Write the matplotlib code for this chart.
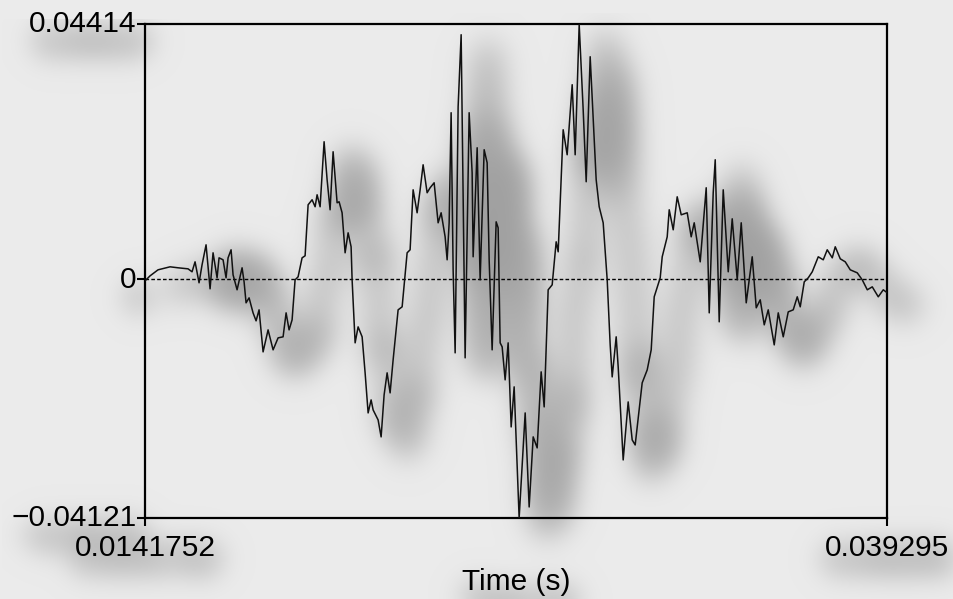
import numpy as np
import matplotlib
matplotlib.use("Agg")
import matplotlib.pyplot as plt

# ---------------- data ----------------
time_ms = [14.175, 14.345, 14.615, 15.022, 15.293, 15.631, 15.766, 15.868, 16.003, 16.105,
           16.240, 16.376, 16.477, 16.613, 16.680, 16.816, 16.917, 16.985, 17.087, 17.154,
           17.290, 17.459, 17.527, 17.594, 17.696, 17.831, 17.933, 18.034, 18.170, 18.339,
           18.509, 18.678, 18.847, 18.949, 19.050, 19.152, 19.253, 19.355, 19.490, 19.592,
           19.694, 19.829, 19.931, 19.998, 20.100, 20.235, 20.337, 20.438, 20.540, 20.675,
           20.743, 20.844, 20.946, 21.048, 21.149, 21.183, 21.285, 21.386, 21.522, 21.623,
           21.725, 21.826, 21.894, 22.063, 22.165, 22.266, 22.368, 22.469, 22.571, 22.740,
           22.876, 23.045, 23.146, 23.248, 23.383, 23.485, 23.586, 23.722, 23.823, 23.959,
           24.094, 24.196, 24.331, 24.399, 24.467, 24.534, 24.602, 24.670, 24.771, 24.873,
           25.008, 25.144, 25.245, 25.279, 25.415, 25.516, 25.652, 25.753, 25.821, 25.922,
           26.058, 26.125, 26.193, 26.261, 26.362, 26.464, 26.566, 26.667, 26.836, 27.040,
           27.175, 27.311, 27.446, 27.581, 27.683, 27.818, 27.954, 28.089, 28.157, 28.326,
           28.461, 28.631, 28.732, 28.868, 29.003, 29.105, 29.240, 29.443, 29.545, 29.680,
           29.816, 29.917, 29.985, 30.120, 30.188, 30.357, 30.526, 30.662, 30.763, 31.000,
           31.170, 31.305, 31.407, 31.610, 31.678, 31.847, 31.915, 32.050, 32.185, 32.321,
           32.524, 32.659, 32.761, 32.964, 33.167, 33.269, 33.404, 33.472, 33.607, 33.743,
           33.912, 34.047, 34.217, 34.352, 34.521, 34.724, 34.860, 34.995, 35.131, 35.266,
           35.469, 35.605, 35.774, 35.943, 36.112, 36.248, 36.349, 36.485, 36.620, 36.756,
           36.959, 37.128, 37.263, 37.433, 37.534, 37.704, 37.873, 38.042, 38.279, 38.448,
           38.618, 38.787, 38.990, 39.159, 39.295]

amp_mPa = [-0.26, 0.60, 1.64, 2.16, 1.99, 1.81, 1.30, 3.02, -0.60, 2.51,
           5.96, -1.64, 4.58, 0.26, 3.71, 3.37, 0.26, 3.71, 5.10, 0.78,
           -1.81, 1.99, -0.43, -4.06, -3.20, -5.79, -7.17, -5.27, -12.53, -8.73,
           -12.18, -10.11, -9.93, -5.79, -8.73, -7.00, -0.09, 0.43, 3.71, 4.06,
           12.87, 13.74, 12.53, 14.60, 12.53, 23.76, 17.19, 12.01, 22.03, 13.22,
           13.39, 11.49, 4.58, 8.03, 5.62, -0.09, -10.97, -8.21, -9.93, -16.15,
           -23.07, -20.82, -22.55, -24.28, -27.21, -19.96, -16.15, -19.61, -13.91, -5.27,
           -4.75, 4.58, 5.10, 15.46, 11.49, 15.46, 19.78, 14.95, 15.81, 16.67,
           9.76, 11.49, 7.34, 3.37, 9.76, 28.77, 1.64, -12.70, 29.80, 42.24,
           -13.56, 28.77, 18.40, 3.89, 22.72, -0.09, 22.38, 20.13, 3.37, -12.18,
           9.93, 8.90, -10.97, -11.66, -17.36, -10.97, -25.49, -18.57, -41.21, -23.07,
           -39.31, -27.21, -29.11, -15.98, -22.03, -1.81, -0.95, 6.48, 4.75, 25.83,
           21.51, 33.61, 21.51, 44.00, 29.29, 16.85, 38.44, 17.19, 12.53, 9.76,
           -0.09, -11.32, -16.85, -9.93, -15.12, -31.19, -21.17, -27.73, -28.60, -17.88,
           -15.64, -12.18, -3.02, 0.26, 3.89, 7.34, 12.01, 8.55, 14.25, 11.14,
           11.49, 7.34, 9.76, 3.02, 15.81, -5.79, 14.95, 20.65, -7.34, 15.46,
           1.30, 10.45, -0.09, 9.76, -4.06, 3.89, -4.92, -3.54, -7.86, -5.27,
           -11.32, -5.79, -9.93, -5.62, -5.27, -3.02, -4.75, -0.43, 0.26, 1.30,
           3.89, 3.37, 5.10, 3.71, 5.62, 3.54, 3.02, 1.64, 1.12, -0.09,
           -1.81, -1.30, -3.02, -1.81, -2.33]

x_min, x_max = 0.0141752, 0.039295
y_min, y_max = -0.04121, 0.04414
x_ticks = [x_min, x_max]
x_tick_labels = ["0.0141752", "0.039295"]
y_ticks = [y_min, 0.0, y_max]
y_tick_labels = ["\u22120.04121", "0", "0.04414"]
x_label = "Time (s)"

t = np.array(time_ms) / 1000.0
a = np.array(amp_mPa) / 1000.0

# ---------------- layout ----------------
W, H, DPI = 953, 599, 100
FIGSIZE = ((W + 0.3) / DPI, (H + 0.3) / DPI)
AX_RECT = [145 / W, 1 - 518 / H, 742 / W, 494 / H]
FONT = ["Liberation Sans", "DejaVu Sans"]
FS = 21.5
BG = 0.922


def build(fig, mode="final"):
    """mode: 'final' = the chart, 'wave' = waveform only, 'text' = labels only."""
    ax = fig.add_axes(AX_RECT)
    ax.set_facecolor("none")
    if mode in ("final", "wave"):
        ax.plot(t, a, color="black" if mode == "wave" else "#111111",
                lw=2.8 if mode == "wave" else 1.1, zorder=3)
    if mode == "final":
        ax.axhline(0, color="black", lw=1.0, ls=(0, (2.6, 1.6)), zorder=2)
    ax.set_xlim(x_min, x_max)
    ax.set_ylim(y_min, y_max)
    ax.set_xticks(x_ticks)
    ax.set_xticklabels(x_tick_labels, fontfamily=FONT, fontsize=FS)
    ax.set_yticks(y_ticks)
    ax.set_yticklabels(y_tick_labels, fontfamily=FONT, fontsize=FS)
    for lab in ax.get_yticklabels():
        lab.set_verticalalignment("center")
    ax.tick_params(axis="both", direction="out", length=5.5, width=1.5,
                   color="black", labelcolor="black")
    ax.tick_params(axis="x", pad=6)
    ax.tick_params(axis="y", pad=0.5)
    for s in ax.spines.values():
        s.set_linewidth(1.6)
        s.set_color("black")
    ax.set_xlabel(x_label, fontfamily=FONT, fontsize=FS, va="center")
    ax.xaxis.set_label_coords(0.5, -(582 - 518) / 494)
    if mode != "final":
        ax.tick_params(axis="both", length=0)
        for s in ax.spines.values():
            s.set_visible(False)
    if mode == "wave":
        ax.tick_params(axis="both", labelcolor="white")
        ax.xaxis.label.set_color("white")
    return ax


def shadow_layer(mode, sigma, dx, dy):
    sfig = plt.figure(figsize=FIGSIZE, dpi=DPI, facecolor="white")
    build(sfig, mode)
    sfig.canvas.draw()
    buf = np.asarray(sfig.canvas.buffer_rgba())[:, :, :3].astype(float) / 255.0
    plt.close(sfig)
    dark = 1.0 - buf.mean(axis=2)
    h, w = dark.shape
    r = int(4 * sigma)
    kx = np.arange(-r, r + 1)
    g = np.exp(-0.5 * (kx / sigma) ** 2)
    g /= g.sum()
    pad = np.pad(dark, r, mode="constant")
    blur = np.apply_along_axis(lambda v: np.convolve(v, g, mode="same"), 1, pad)
    blur = np.apply_along_axis(lambda v: np.convolve(v, g, mode="same"), 0, blur)
    blur = blur[r:-r, r:-r]
    out = np.zeros_like(blur)
    ys = slice(max(dy, 0), h + min(dy, 0))
    yd = slice(max(-dy, 0), h - max(dy, 0))
    xs = slice(max(dx, 0), w + min(dx, 0))
    xd = slice(max(-dx, 0), w - max(dx, 0))
    out[ys, xs] = blur[yd, xd]
    return out


wave_sh = shadow_layer("wave", 16.0, 26, 14)
text_sh = shadow_layer("text", 14.0, 2, 20)
total = wave_sh + 0.8 * text_sh
shade = 0.30 * (1 - np.exp(-total / 0.2))
gray = np.clip(BG - shade, 0, 1)
img = np.dstack([gray, gray, gray])

# ---------------- final figure ----------------
fig = plt.figure(figsize=FIGSIZE, dpi=DPI, facecolor=(BG, BG, BG))
bg_ax = fig.add_axes([0, 0, 1, 1], zorder=-10)
bg_ax.imshow(img, aspect="auto", interpolation="bilinear")
bg_ax.set_axis_off()
build(fig, "final")
fig.savefig("out.png", dpi=DPI, facecolor=fig.get_facecolor())
